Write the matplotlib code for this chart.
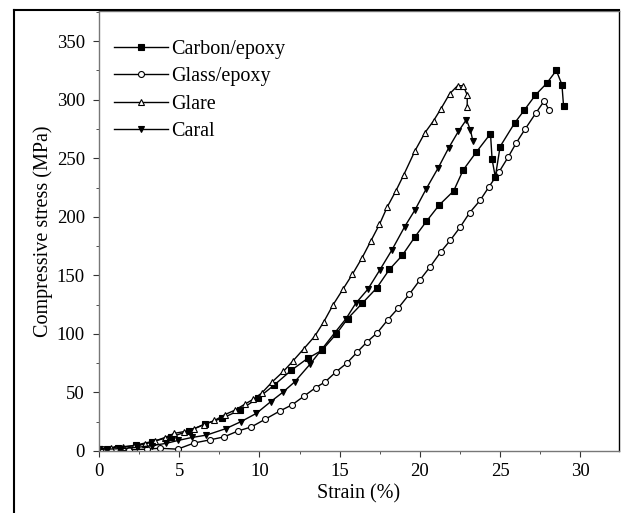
import matplotlib.pyplot as plt
from matplotlib.lines import Line2D
from matplotlib.ticker import MultipleLocator

plt.rcParams['font.family'] = ['Liberation Serif', 'DejaVu Serif']

# strain (%) / compressive stress (MPa)
carbon_x = [0.0, 1.2, 2.3, 3.3, 4.5, 5.6, 6.6, 7.7, 8.8, 9.9, 10.9, 12.0, 13.0, 13.9,
            14.8, 15.5, 16.4, 17.3, 18.1, 18.9, 19.7, 20.4, 21.2, 22.1, 22.7, 23.5,
            24.4, 24.5, 24.7, 25.0, 25.9, 26.5, 27.2, 27.9, 28.5, 28.85, 28.95]
carbon_y = [1.5, 2.5, 5, 8, 12, 17, 23, 28, 35, 45, 56, 69, 79, 86,
            100, 113, 126, 139, 155, 167, 183, 196, 210, 222, 240, 255,
            271, 249, 234, 260, 280, 291, 304, 314, 325, 313, 295]

glass_x = [0.2, 1.0, 1.9, 2.97, 3.8, 4.9, 5.94, 6.9, 7.8, 8.66, 9.5, 10.35, 11.26,
           12.05, 12.8, 13.5, 14.1, 14.77, 15.45, 16.1, 16.7, 17.35, 18.0, 18.65,
           19.35, 20.0, 20.65, 21.3, 21.9, 22.5, 23.1, 23.75, 24.3, 24.94, 25.5,
           26.0, 26.56, 27.22, 27.75, 28.05]
glass_y = [1.5, 1.5, 1.0, 1.5, 2.3, 1.5, 6.8, 9.4, 12, 17, 20.5, 27, 34,
           39.5, 47, 54, 59, 67.5, 75, 84.5, 93, 101, 112, 122,
           134, 146, 157.5, 170, 180, 191, 203.5, 214, 225.5, 238.5, 251,
           263, 275, 288.5, 299, 291]

glare_x = [0.1, 0.75, 1.5, 2.2, 2.85, 3.5, 4.1, 4.7, 5.3, 5.94, 6.56, 7.2, 7.85,
           8.5, 9.1, 9.6, 10.15, 10.8, 11.5, 12.1, 12.75, 13.45, 14.0, 14.6,
           15.2, 15.8, 16.4, 16.95, 17.48, 17.97, 18.5, 19.0, 19.7, 20.3, 20.85,
           21.3, 21.85, 22.35, 22.7, 22.95, 22.95]
glare_y = [2, 2.8, 3.7, 4.3, 5.7, 8.5, 11.4, 15, 16.5, 19, 22.5, 26, 31,
           35, 40, 44, 49.5, 59, 68, 77, 87, 98, 110, 125,
           138, 151, 165, 179.5, 193.5, 208.5, 222, 236, 256.5, 271.5, 282,
           292, 305, 312, 312, 304, 294]

caral_x = [0.0, 0.5, 1.4, 2.35, 3.3, 4.2, 4.95, 5.8, 6.7, 7.9, 8.85, 9.8, 10.7,
           11.45, 12.2, 13.15, 13.9, 14.7, 15.4, 16.0, 16.75, 17.5, 18.25, 19.05,
           19.7, 20.4, 21.15, 21.8, 22.4, 22.9, 23.15, 23.3]
caral_y = [1.4, 1.5, 2, 3, 4.5, 6.5, 9, 11.5, 13.5, 19, 25, 32, 42,
           50, 59, 74, 87, 101, 113, 126, 138, 154.5, 171.5, 191.5,
           206, 224, 242, 259, 273, 283, 274, 265]

fig = plt.figure(figsize=(6.22, 5.13), dpi=100)
ax = fig.add_axes([0.159, 0.121, 0.836, 0.858])

kw = dict(color='black', lw=1.0, mec='black', mew=0.8)
ax.plot(carbon_x, carbon_y, marker='s', ms=3.8, mfc='black', label='Carbon/epoxy', **kw)
ax.plot(glass_x, glass_y, marker='o', ms=4.3, mfc='white', label='Glass/epoxy', **kw)
ax.plot(glare_x, glare_y, marker='^', ms=4.5, mfc='white', label='Glare', **kw)
ax.plot(caral_x, caral_y, marker='v', ms=4.5, mfc='black', label='Caral', **kw)

ax.set_xlim(0, 32.4)
ax.set_ylim(0, 376)
ax.xaxis.set_major_locator(MultipleLocator(5))
ax.xaxis.set_minor_locator(MultipleLocator(2.5))
ax.yaxis.set_major_locator(MultipleLocator(50))
ax.yaxis.set_minor_locator(MultipleLocator(25))
ax.tick_params(which='both', direction='out', labelsize=13.5, color='#333333')
ax.tick_params(which='major', length=4)
ax.tick_params(which='minor', length=2.5)
ax.tick_params(axis='y', pad=6)
ax.tick_params(axis='x', pad=5)
for s in ax.spines.values():
    s.set_color('#777777')
    s.set_linewidth(1.0)
ax.spines['right'].set_color('black')

ax.set_xlabel('Strain (%)', fontsize=14.5, labelpad=3)
ax.set_ylabel('Compressive stress (MPa)', fontsize=14.5, labelpad=3)

ax.legend(loc='upper left', bbox_to_anchor=(-0.01, 0.98), frameon=False, fontsize=14.5,
          handlelength=2.7, handletextpad=0.15, labelspacing=0.42, borderaxespad=0.6)

# outer frame around the figure
fig.add_artist(Line2D([14 / 622, 14 / 622], [0, 1 - 10 / 513], color='black', lw=1.5,
                      transform=fig.transFigure))
fig.add_artist(Line2D([14 / 622, 0.995], [1 - 10 / 513, 1 - 10 / 513], color='black',
                      lw=1.5, transform=fig.transFigure))

fig.savefig('out.png', dpi=100)
